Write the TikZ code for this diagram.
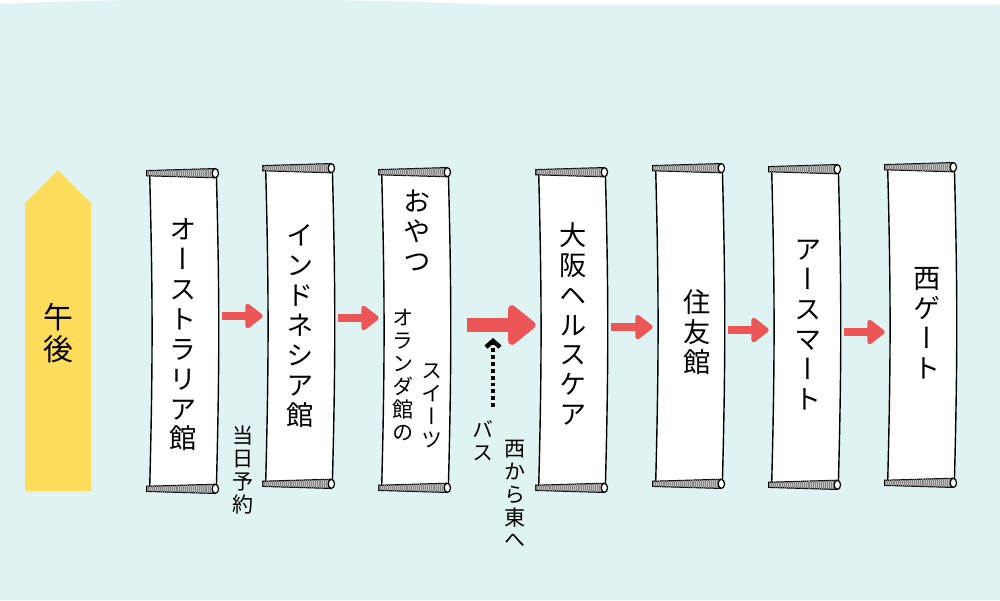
\documentclass[tikz,border=0pt]{standalone}
\usepackage{fontspec}
\usepackage{tikz}
\usetikzlibrary{calc,arrows.meta,patterns.meta}
\newfontfamily\tatefont[RawFeature=+vert]{Noto Sans CJK JP}
\definecolor{skybg}{HTML}{E0F3F3}
\definecolor{arrowred}{HTML}{EC5656}
\definecolor{noonyellow}{HTML}{FFDD5C}
\newcommand{\Scroll}[1]{%
  \filldraw[fill=white, line width=0.8pt] ($(#1.north west)+(3,0)$) to[bend left=1.5] ($(#1.south west)+(3,0)$)
    -- ($(#1.south east)+(-1,0)$) to[bend right=1.5] ($(#1.north east)+(-1,0)$) -- cycle;
  \filldraw[rollpaper] ($(#1.north west)+(0,-2.5)$) -- ($(#1.north east)+(-3,-4.5)$)
    -- ($(#1.north east)+(-3,4.5)$) -- ($(#1.north west)+(0,2.5)$) -- cycle;
  \filldraw[fill=white, line width=0.7pt] ($(#1.north east)+(-2,0)$) ellipse[x radius=1.8pt, y radius=2.6pt];
  \filldraw[rollpaper] ($(#1.south west)+(0,-2.5)$) -- ($(#1.south east)+(-3,-4.5)$)
    -- ($(#1.south east)+(-3,4.5)$) -- ($(#1.south west)+(0,2.5)$) -- cycle;
  \filldraw[fill=white, line width=0.7pt] ($(#1.south east)+(-2,0)$) ellipse[x radius=1.8pt, y radius=2.6pt];
}
\tikzset{
  scroll/.style={minimum width=1.4cm, minimum height=6.3cm, inner sep=0pt},
  rollpaper/.style={line width=0.7pt, fill=gray!50,
    postaction={pattern={Lines[angle=90, distance=1.1pt, line width=0.4pt]}, pattern color=gray!95}},
  tate/.style={font=\tatefont\fontsize{15.5pt}{17pt}\selectfont, align=center, inner sep=0pt},
  tatesmall/.style={font=\tatefont\fontsize{12pt}{13pt}\selectfont, align=center, inner sep=0pt},
  redarrow/.style={arrowred, line width=4.8pt, shorten <=2.8pt, -{Triangle[length=10.8pt, width=16pt, round]}},
  bigarrow/.style={arrowred, line width=8.5pt, shorten <=10pt, -{Triangle[length=17pt, width=26pt, round]}},
  busarrow/.style={line width=2.5pt, dash pattern=on 2.2pt off 1.7pt, -{Straight Barb[length=3.5pt, width=8pt]}}
}

\begin{document}
\begin{tikzpicture}[x=0.02cm, y=-0.02cm]
    \useasboundingbox (0,0) rectangle (1000,600);
    \fill[white] (0,0) rectangle (1000,600);
    \fill[skybg] (0,4) .. controls (150,-3) and (350,-2) .. (500,5) -- (1000,5) -- (1000,600) -- (0,600) -- cycle;

    \fill[noonyellow] (25,491) -- (25,203) -- (58,170) -- (91,203) -- (91,491) -- cycle;
    \node[tate, font=\tatefont\fontsize{17pt}{18.5pt}\selectfont] (pm) at (58,333) {午\\後};

    \node[scroll] (s1) at (182,331) {};
    \node[scroll] (s2) at (298,326) {};
    \node[scroll] (s3) at (414,330) {};
    \node[scroll] (s4) at (571,330) {};
    \node[scroll] (s5) at (688,326) {};
    \node[scroll] (s6) at (804,327) {};
    \node[scroll] (s7) at (920,325) {};
    \Scroll{s1}
    \Scroll{s2}
    \Scroll{s3}
    \Scroll{s4}
    \Scroll{s5}
    \Scroll{s6}
    \Scroll{s7}

    \node[tate] (oz) at (183,335) {オ\\ー\\ス\\ト\\ラ\\リ\\ア\\館};
    \node[tate] (indo) at (300,326) {イ\\ン\\ド\\ネ\\シ\\ア\\館};
    \node[tatesmall] (same) at (243,470) {当\\日\\予\\約};
    \node[tate] (snack) at (417,231) {お\\や\\つ};
    \node[tatesmall] (dutch) at (403,375) {オ\\ラ\\ン\\ダ\\館\\の};
    \node[tatesmall] (sweets) at (432,406) {ス\\イ\\ー\\ツ};
    \node[tate] (osaka) at (573,324) {大\\阪\\ヘ\\ル\\ス\\ケ\\ア};
    \node[tate] (sumi) at (697,332) {住\\友\\館};
    \node[tate] (earth) at (808,325) {ア\\ー\\ス\\マ\\ー\\ト};
    \node[tate] (west) at (927,323) {西\\ゲ\\ー\\ト};
    \node[tatesmall] (bus) at (483,441) {バ\\ス};
    \node[tatesmall] (eastward) at (515,494) {西\\か\\ら\\東\\へ};

    \draw[redarrow] ($(s1.east)+(0,-15)$) -- ($(s2.west)+(0,-10)$);
    \draw[redarrow] ($(s2.east)+(0,-8)$) -- ($(s3.west)+(0,-12)$);
    \draw[bigarrow] ($(s3.east)+(0,-5)$) -- ($(s4.west)+(0,-5)$);
    \draw[redarrow] ($(s4.east)+(0,-3)$) -- ($(s5.west)+(0,1)$);
    \draw[redarrow] ($(s5.east)+(0,4)$) -- ($(s6.west)+(0,3)$);
    \draw[redarrow] ($(s6.east)+(0,5)$) -- ($(s7.west)+(0,7)$);

    \coordinate (busfrom) at (493,407);
    \coordinate (busto) at (493,338);
    \draw[busarrow] (busfrom) -- (busto);
\end{tikzpicture}
\end{document}
